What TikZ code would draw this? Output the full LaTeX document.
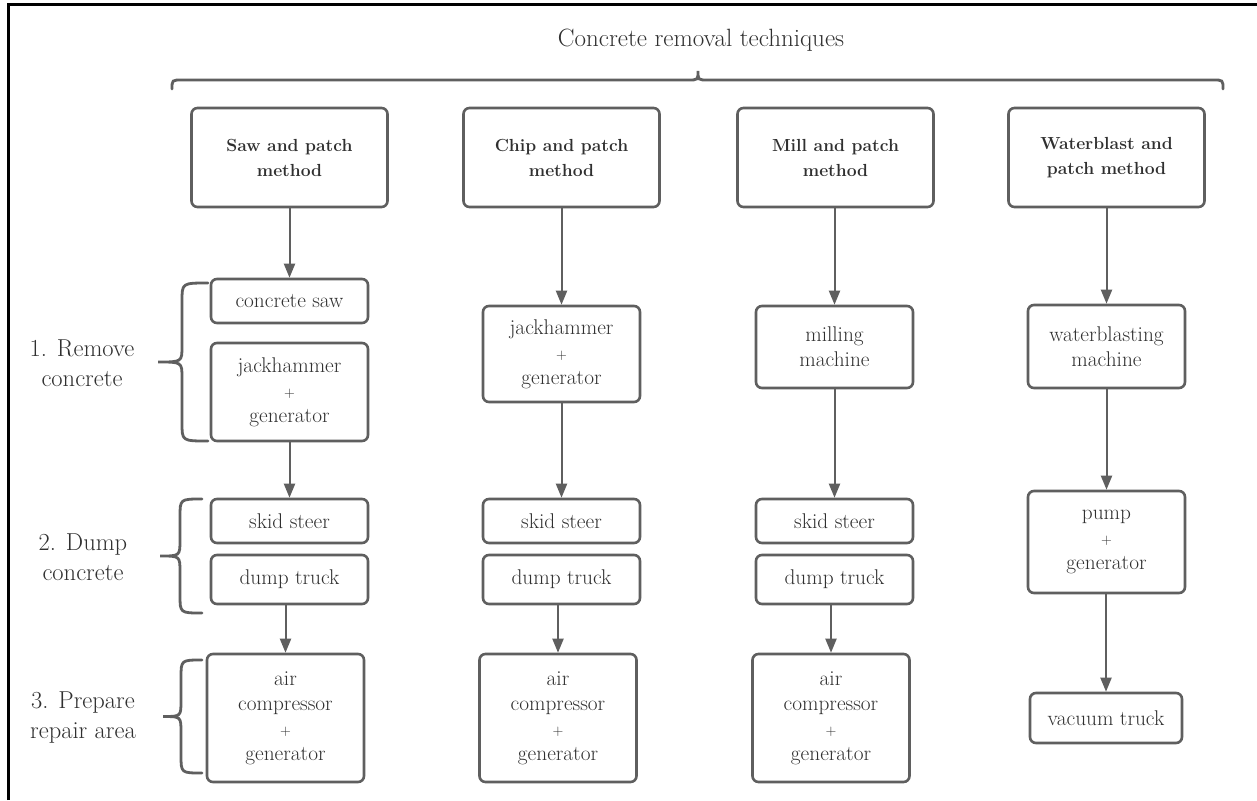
\documentclass[tikz,border=0pt]{standalone}
\usetikzlibrary{arrows.meta}
\definecolor{boxgray}{HTML}{5F5F5F}
\definecolor{txt}{HTML}{303030}
\newcommand\mybrace[5]{\draw[brc] (#1,#4) .. controls (#2,#4) .. (#2,{#4+18}) -- (#2,{(#4+#5)/2-16}) .. controls (#2,{(#4+#5)/2}) .. (#3,{(#4+#5)/2}) .. controls (#2,{(#4+#5)/2}) .. (#2,{(#4+#5)/2+16}) -- (#2,{#5-18}) .. controls (#2,#5) .. (#1,#5);}
\newcommand\plussign{{\fontsize{15}{25}\selectfont +}}
\begin{document}
\begin{tikzpicture}[x=1pt,y=-1pt,
  box/.style={draw=boxgray, line width=2.6pt, rounded corners=6pt, align=center, inner sep=0pt, text=txt, font=\fontsize{21.3}{25}\selectfont, minimum width=157pt},
  head/.style={box, minimum width=196pt, minimum height=99pt, font=\fontsize{17.5}{25}\selectfont\bfseries},
  lab/.style={align=center, text=txt, font=\fontsize{24.5}{30}\selectfont},
  arr/.style={draw=boxgray, line width=2pt, -{Triangle[length=14pt,width=11pt]}},
  brc/.style={draw=boxgray, line width=2.8pt, line cap=round}]
\useasboundingbox (0,0) rectangle (1257,800);
\fill[white] (0,0) rectangle (1257,800);
\draw[black, line width=3pt] (8,800) -- (8,5) -- (1257,5);

\node[text=txt, font=\fontsize{25}{30}\selectfont] (title) at (701,40) {Concrete removal techniques};
\draw[brc] (172,89) .. controls (172,80) .. (182,80) -- (688,80) .. controls (698,80) .. (698,71) .. controls (698,80) .. (708,80) -- (1213,80) .. controls (1223,80) .. (1223,89);

% headers
\node[head] (h1) at (289.5,157.5) {Saw and patch\\method};
\node[head] (h2) at (561.5,157.5) {Chip and patch\\method};
\node[head] (h3) at (835.5,157.5) {Mill and patch\\method};
\node[head] (h4) at (1106.5,157.5) {Waterblast and\\patch method};

% column 1
\node[box, minimum height=44pt] (saw1) at (289.5,301) {concrete saw};
\node[box, minimum height=98pt] (jack1) at (289.5,392) {jackhammer\\\plussign\\generator};
\node[box, minimum height=44pt] (skid1) at (289.5,521) {skid steer};
\node[box, minimum height=49pt] (dump1) at (289.5,579.5) {dump truck};
\node[box, minimum height=128pt] (air1) at (285.5,718) {air\\compressor\\\plussign\\generator};

% column 2
\node[box, minimum height=96pt] (jack2) at (561.5,354) {jackhammer\\\plussign\\generator};
\node[box, minimum height=44pt] (skid2) at (561.5,521) {skid steer};
\node[box, minimum height=49pt] (dump2) at (561.5,579.5) {dump truck};
\node[box, minimum height=128pt] (air2) at (558,718) {air\\compressor\\\plussign\\generator};

% column 3
\node[box, minimum height=82pt] (mill3) at (834.5,347) {milling\\machine};
\node[box, minimum height=44pt] (skid3) at (834.5,521) {skid steer};
\node[box, minimum height=49pt] (dump3) at (834.5,579.5) {dump truck};
\node[box, minimum height=128pt] (air3) at (831,718) {air\\compressor\\\plussign\\generator};

% column 4
\node[box, minimum height=83pt] (water4) at (1106.5,346.5) {waterblasting\\machine};
\node[box, minimum height=102pt] (pump4) at (1106.5,542) {pump\\\plussign\\generator};
\node[box, minimum width=152pt, minimum height=50pt] (vac4) at (1106,718) {vacuum truck};

% arrows
\draw[arr] (h1) -- (saw1);
\draw[arr] (jack1) -- (skid1);
\draw[arr] (dump1.south -| air1.north) -- (air1.north);
\draw[arr] (h2) -- (jack2);
\draw[arr] (jack2) -- (skid2);
\draw[arr] (dump2.south -| air2.north) -- (air2.north);
\draw[arr] (h3.south -| mill3.north) -- (mill3);
\draw[arr] (mill3) -- (skid3);
\draw[arr] (dump3.south -| air3.north) -- (air3.north);
\draw[arr] (h4) -- (water4);
\draw[arr] (water4) -- (pump4);
\draw[arr] (pump4.south -| vac4.north) -- (vac4.north);

% side braces and labels
\mybrace{208}{182}{158}{283}{441}
\mybrace{202}{180}{160}{499}{613}
\mybrace{202}{181}{163}{660}{773}
\node[lab] (l1) at (82,363) {1. Remove\\concrete};
\node[lab] (l2) at (83,557) {2. Dump\\concrete};
\node[lab] (l3) at (83,718) {3. Prepare\\repair area};
\end{tikzpicture}
\end{document}
